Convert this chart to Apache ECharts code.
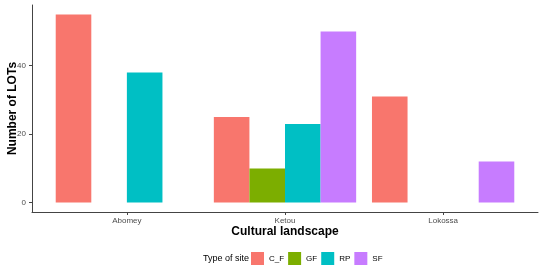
<!DOCTYPE html>
<html>
<head>
<meta charset="utf-8">
<script src="https://cdn.jsdelivr.net/npm/echarts@6/dist/echarts.min.js"></script>
<style>
  html, body { margin: 0; padding: 0; background: #fff; }
  #chart { width: 550px; height: 270px; }
</style>
</head>
<body>
<div id="chart"></div>
<script>
// landscapes sit at x = 1, 2, 3 on the value axis (like ggplot's discrete scale)
var landscapes = ['Abomey', 'Ketou', 'Lokossa'];
var siteTypes = ['C_F', 'GF', 'RP', 'SF'];
var cfValues = [55, 25, 31];
var gfValues = [null, 10, null];
var rpValues = [38, 23, null];
var sfValues = [null, 50, 12];
var yTicks = [0, 20, 40];

var colors = ['#F8766D', '#7CAE00', '#00BFC4', '#C77CFF'];
var font = 'Liberation Sans, Arial, sans-serif';

function toPoints(vals) {
  var pts = [];
  vals.forEach(function (v, i) {
    if (v !== null) pts.push([i + 1, v]);
  });
  return pts;
}

var allValues = [cfValues, gfValues, rpValues, sfValues];
var series = siteTypes.map(function (name, k) {
  return {
    name: name,
    type: 'bar',
    data: toPoints(allValues[k]),
    barGap: '0%',
    barCategoryGap: '10%',
    itemStyle: { color: colors[k] }
  };
});

var chart = echarts.init(document.getElementById('chart'));
chart.setOption({
  animation: false,
  textStyle: { fontFamily: font },
  title: {
    text: 'Type of site',
    left: 203,
    top: 254,
    padding: 0,
    textStyle: { fontSize: 9, fontWeight: 'normal', color: '#000', fontFamily: font }
  },
  legend: {
    data: siteTypes,
    left: 251,
    top: 252,
    icon: 'rect',
    itemWidth: 13,
    itemHeight: 13,
    itemGap: 4,
    padding: 0,
    textStyle: { fontSize: 8, color: '#000', fontFamily: font }
  },
  grid: { left: 32, right: 12, top: 5, bottom: 58, containLabel: false, outerBoundsMode: 'none' },
  xAxis: {
    type: 'value',
    min: 0.4,
    max: 3.6,
    name: 'Cultural landscape',
    nameLocation: 'middle',
    nameGap: 14,
    nameMoveOverlap: false,
    nameTextStyle: { fontSize: 12, fontWeight: 'bold', color: '#000', fontFamily: font },
    splitLine: { show: false },
    axisLine: { show: true, onZero: false, lineStyle: { color: '#444', width: 1 } },
    axisTick: { show: true, length: 3, customValues: [1, 2, 3], lineStyle: { color: '#444' } },
    axisLabel: {
      customValues: [1, 2, 3],
      formatter: function (v) { return landscapes[Math.round(v) - 1]; },
      fontSize: 8,
      color: '#4d4d4d',
      margin: 5
    }
  },
  yAxis: {
    type: 'value',
    min: -2.75,
    max: 57.75,
    name: 'Number of LOTs',
    nameLocation: 'middle',
    nameGap: 13,
    nameMoveOverlap: false,
    nameTextStyle: { fontSize: 12, fontWeight: 'bold', color: '#000', fontFamily: font },
    splitLine: { show: false },
    axisLine: { show: true, onZero: false, lineStyle: { color: '#444', width: 1 } },
    axisTick: { show: true, length: 3, customValues: yTicks, lineStyle: { color: '#444' } },
    axisLabel: { customValues: yTicks, fontSize: 8, color: '#4d4d4d', margin: 6 }
  },
  series: series
});
</script>
</body>
</html>
